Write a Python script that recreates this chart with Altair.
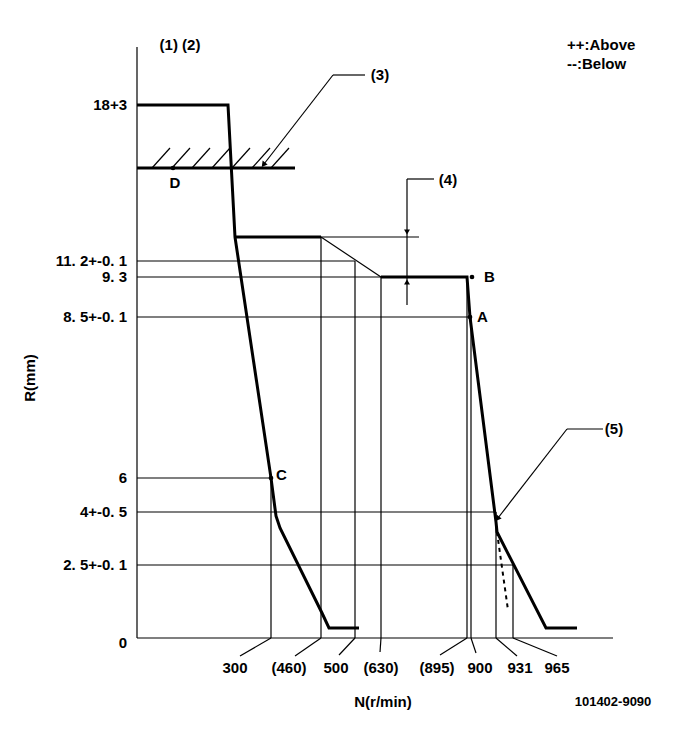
import altair as alt
import pandas as pd

# ---- schematic diagram data (diagram units, origin at the corner of the axes) ----
# N axis (r/min): tick texts, where each speed sits, where its text sits
N_LABELS = ["300", "(460)", "500", "(630)", "(895)", "900", "931", "965"]
N_POS = [134, 184, 218, 244, 330, 334, 359, 376]
N_GUIDE_TOP = [160, 401, 377, 361, 361, 321, 126, 73]
N_TEXT_POS = [98, 152, 199, 244, 300, 343, 383, 420]
N_LEADER_END_X = [103, 158, 202, 243, 303, 339, 380, 420]
N_LEADER_END_Y = [-18, -18, -17, -14, -17, -15, -18, -18]

# R axis (mm): tick texts and levels
R_LABELS = ["18+3", "11. 2+-0. 1", "9. 3", "8. 5+-0. 1", "6", "4+-0. 5", "2. 5+-0. 1", "0"]
R_POS = [533, 377, 361, 321, 160, 126, 73, -5]
R_GUIDE_END = [0, 218, 244, 333, 134, 359, 376, 0]

# governor curves
LEFT_X = [0, 91, 98, 134, 139, 143, 185, 192, 222]
LEFT_Y = [533, 533, 401, 160, 122, 110, 25, 10, 10]
PLATEAU_X = [98, 184]
PLATEAU_Y = [401, 401]
RIGHT_X = [244, 330, 333, 359, 360, 409, 440]
RIGHT_Y = [361, 361, 321, 116, 106, 10, 10]
STOP_X = [0, 158]
STOP_Y = [470, 470]
DASH_X = [360, 371]
DASH_Y = [106, 28]
SLOPE_X = [184, 244]
SLOPE_Y = [401, 361]
HATCH_X = [15, 35, 55, 75, 95, 115, 134]

# check points
PT_NAMES = ["A", "B", "C", "D"]
PT_X = [333, 335, 134, 36]
PT_Y = [321, 361, 160, 470]

AXIS_X_END = 476
AXIS_Y_END = 591

# ---- build tables ----
thin = []
thin.append((0, 0, AXIS_X_END, 0))
thin.append((0, 0, 0, AXIS_Y_END))
for x, top in zip(N_POS, N_GUIDE_TOP):
    thin.append((x, 0, x, top))
for y, end in zip(R_POS, R_GUIDE_END):
    if end > 0:
        thin.append((0, y, end, y))
for x, lx, ly in zip(N_POS, N_LEADER_END_X, N_LEADER_END_Y):
    thin.append((x, 0, lx, ly))
thin.append((PLATEAU_X[1], PLATEAU_Y[1], 282, PLATEAU_Y[1]))
thin.append((SLOPE_X[0], SLOPE_Y[0], SLOPE_X[1], SLOPE_Y[1]))
# dimension (4)
thin.append((270, 459, 270, 333))
thin.append((270, 459, 297, 459))
# leader (3)
thin.append((196, 563, 228, 563))
thin.append((196, 563, 127, 474))
# leader (5)
thin.append((430, 209, 466, 209))
thin.append((430, 209, 361, 120))
# hatching above the stop line
for hx in HATCH_X:
    thin.append((hx, STOP_Y[0], hx + 18, STOP_Y[0] + 20))
thin_df = pd.DataFrame(thin, columns=["x", "y", "x2", "y2"])

rows = []
for name, xs_, ys_ in [("left", LEFT_X, LEFT_Y), ("plateau", PLATEAU_X, PLATEAU_Y),
                       ("right", RIGHT_X, RIGHT_Y), ("stop", STOP_X, STOP_Y)]:
    for i, (a, b) in enumerate(zip(xs_, ys_)):
        rows.append({"seg": name, "o": i, "x": a, "y": b})
thick_df = pd.DataFrame(rows)
dash_df = pd.DataFrame({"x": DASH_X, "y": DASH_Y, "o": [0, 1]})

pts_df = pd.DataFrame({"name": PT_NAMES, "x": PT_X, "y": PT_Y})

xs = alt.Scale(domain=[-129, 540], zero=False, nice=False)
ys = alt.Scale(domain=[-86, 630], zero=False, nice=False)
X = lambda f="x": alt.X(f"{f}:Q", scale=xs, axis=None)
Y = lambda f="y": alt.Y(f"{f}:Q", scale=ys, axis=None)

FONT = "Liberation Sans"

thin_layer = alt.Chart(thin_df).mark_rule(color="black", strokeWidth=1.2).encode(
    x=X(), y=Y(), x2="x2:Q", y2="y2:Q")

thick_layer = alt.Chart(thick_df).mark_line(color="black", strokeWidth=3, strokeJoin="miter").encode(
    x=X(), y=Y(), detail="seg:N", order="o:Q")

dash_layer = alt.Chart(dash_df).mark_line(color="black", strokeWidth=2, strokeDash=[4, 4]).encode(
    x=X(), y=Y(), order="o:Q")

pts_layer = alt.Chart(pts_df).mark_point(filled=True, color="black", size=22, opacity=1).encode(
    x=X(), y=Y())

# arrowheads
arrow_df = pd.DataFrame({"x": [127, 361], "y": [474, 120]})
arrow_layer = alt.Chart(arrow_df).mark_point(shape="triangle", angle=218, filled=True,
                                             color="black", size=40, opacity=1).encode(x=X(), y=Y())
dim_down = alt.Chart(pd.DataFrame({"x": [270], "y": [406]})).mark_point(
    shape="triangle-down", filled=True, color="black", size=35, opacity=1).encode(x=X(), y=Y())
dim_up = alt.Chart(pd.DataFrame({"x": [270], "y": [356]})).mark_point(
    shape="triangle-up", filled=True, color="black", size=35, opacity=1).encode(x=X(), y=Y())

# texts
rlab_df = pd.DataFrame({"t": R_LABELS, "x": [-10] * len(R_LABELS), "y": R_POS})
rlab = alt.Chart(rlab_df).mark_text(align="right", baseline="middle", font=FONT,
                                    fontSize=15, fontWeight="bold").encode(x=X(), y=Y(), text="t:N")

nlab_df = pd.DataFrame({"t": N_LABELS, "x": N_TEXT_POS, "y": [-30] * len(N_LABELS)})
nlab = alt.Chart(nlab_df).mark_text(align="center", baseline="middle", font=FONT,
                                    fontSize=15, fontWeight="bold").encode(x=X(), y=Y(), text="t:N")

ptlab_df = pd.DataFrame({"t": ["A", "B", "C"], "x": [340, 347, 139], "y": [321, 361, 163]})
ptlab = alt.Chart(ptlab_df).mark_text(align="left", baseline="middle", font=FONT,
                                      fontSize=15, fontWeight="bold").encode(x=X(), y=Y(), text="t:N")

ctr_df = pd.DataFrame({
    "t": ["D", "(1) (2)", "(3)", "(4)", "(5)", "N(r/min)"],
    "x": [38, 43, 243, 311, 477, 246],
    "y": [455, 593, 563, 458, 209, -64]})
ctr = alt.Chart(ctr_df).mark_text(align="center", baseline="middle", font=FONT,
                                  fontSize=15, fontWeight="bold").encode(x=X(), y=Y(), text="t:N")

leg_df = pd.DataFrame({"t": ["++:Above", "--:Below"], "x": [430, 430], "y": [593, 574]})
leg = alt.Chart(leg_df).mark_text(align="left", baseline="middle", font=FONT,
                                  fontSize=15, fontWeight="bold").encode(x=X(), y=Y(), text="t:N")

code = alt.Chart(pd.DataFrame({"t": ["101402-9090"], "x": [476], "y": [-64]})).mark_text(
    align="center", baseline="middle", font=FONT, fontSize=13, fontWeight="bold").encode(
    x=X(), y=Y(), text="t:N")

rtitle = alt.Chart(pd.DataFrame({"t": ["R(mm)"], "x": [-107], "y": [260]})).mark_text(
    align="center", baseline="middle", font=FONT, fontSize=15, fontWeight="bold", angle=270).encode(
    x=X(), y=Y(), text="t:N")

chart = alt.layer(thin_layer, thick_layer, dash_layer, pts_layer, arrow_layer, dim_down, dim_up,
                  rlab, nlab, ptlab, ctr, leg, code, rtitle).properties(
    width=669, height=716, padding=0, autosize="none", background="white"
).configure_view(stroke=None)

chart.save("out.html", embed_options={"renderer": "svg", "actions": False})
